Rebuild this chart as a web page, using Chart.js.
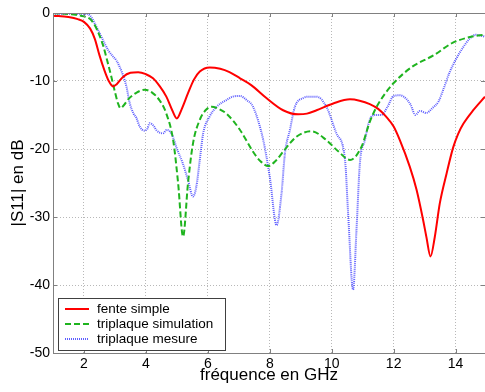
<!DOCTYPE html>
<html>
<head>
<meta charset="utf-8">
<script src="https://cdn.jsdelivr.net/npm/chart.js@4.4.1/dist/chart.umd.min.js"></script>
<style>
  html, body { margin: 0; padding: 0; background: #fff; }
  #wrap { width: 485px; height: 392px; }
</style>
</head>
<body>
<div id="wrap"><canvas id="s11Chart" width="485" height="392"></canvas></div>
<script>
// |S11| (dB) vs frequency (GHz)
const xTicks = [2, 4, 6, 8, 10, 12, 14];
const yTicks = [0, -10, -20, -30, -40, -50];

const fenteFreq = [1.0, 1.5, 1.8, 2.0, 2.2, 2.35, 2.5, 2.65, 2.8, 2.94, 3.05, 3.26, 3.5, 3.75, 4.0, 4.23, 4.45, 4.66, 4.85, 5.0, 5.15, 5.36, 5.55, 5.74, 6.06, 6.4, 6.7, 7.04, 7.4, 7.89, 8.43, 8.92, 9.2, 9.51, 10.05, 10.59, 10.9, 11.23, 11.5, 11.75, 12.0, 12.2, 12.52, 12.74, 12.95, 13.06, 13.19, 13.33, 13.49, 13.71, 13.92, 14.08, 14.25, 14.57, 14.95];
const fenteS11 = [-0.4, -0.6, -0.9, -1.3, -2.3, -3.8, -6.2, -8.3, -10.0, -10.8, -10.5, -9.4, -8.8, -8.7, -9.0, -9.6, -10.8, -12.3, -14.3, -15.5, -14.2, -11.8, -9.8, -8.6, -8.0, -8.2, -8.7, -9.6, -10.6, -12.5, -14.3, -14.9, -14.8, -14.3, -13.3, -12.7, -12.9, -13.4, -14.1, -15.2, -16.7, -18.7, -22.6, -26.0, -30.4, -33.0, -35.8, -32.9, -28.0, -23.6, -19.8, -17.8, -16.3, -14.3, -12.3];

const simFreq = [1.0, 1.6, 2.0, 2.2, 2.35, 2.5, 2.62, 2.75, 2.88, 3.0, 3.1, 3.18, 3.28, 3.45, 3.7, 3.96, 4.2, 4.45, 4.66, 4.88, 5.04, 5.2, 5.36, 5.52, 5.74, 5.95, 6.12, 6.35, 6.6, 7.04, 7.46, 7.7, 7.95, 8.2, 8.43, 8.86, 9.35, 9.83, 10.2, 10.59, 10.96, 11.23, 11.45, 11.7, 12.0, 12.6, 13.3, 13.9, 14.5, 14.95];
const simS11 = [0.0, -0.2, -0.5, -0.9, -1.8, -3.3, -4.8, -7.0, -9.3, -11.6, -13.3, -14.0, -13.6, -12.6, -11.7, -11.3, -11.7, -12.9, -14.8, -18.7, -25.0, -32.9, -25.0, -19.2, -15.7, -14.2, -13.8, -14.1, -14.8, -17.2, -20.4, -21.8, -22.5, -21.7, -20.4, -18.2, -17.4, -18.7, -20.3, -21.6, -19.7, -16.0, -13.8, -12.0, -10.3, -7.9, -6.2, -4.4, -3.5, -3.2];

const mesFreq = [1.0, 1.5, 2.0, 2.2, 2.4, 2.67, 2.8, 2.94, 3.05, 3.15, 3.25, 3.37, 3.48, 3.6, 3.69, 3.8, 3.95, 4.05, 4.12, 4.25, 4.35, 4.55, 4.67, 4.77, 4.88, 4.98, 5.19, 5.36, 5.52, 5.63, 5.74, 5.85, 6.06, 6.28, 6.6, 6.8, 7.04, 7.25, 7.46, 7.79, 8.0, 8.22, 8.38, 8.49, 8.65, 8.81, 9.08, 9.3, 9.51, 9.83, 10.15, 10.43, 10.53, 10.69, 10.8, 10.91, 11.07, 11.23, 11.4, 11.6, 11.8, 12.0, 12.2, 12.4, 12.55, 12.7, 12.85, 13.05, 13.25, 13.45, 13.6, 13.8, 14.0, 14.25, 14.45, 14.65, 14.8, 14.95];
const mesS11 = [-0.1, -0.1, -0.1, -0.4, -2.0, -4.5, -5.6, -6.4, -7.0, -7.9, -9.0, -10.8, -13.3, -14.8, -15.4, -16.7, -17.3, -17.0, -16.2, -16.6, -17.3, -17.7, -17.2, -17.4, -18.3, -19.7, -22.1, -24.6, -27.0, -25.5, -21.6, -17.7, -15.2, -13.8, -12.8, -12.3, -12.2, -12.8, -13.8, -18.7, -24.1, -31.2, -26.5, -20.6, -17.2, -13.8, -12.5, -12.3, -12.3, -13.8, -17.7, -21.6, -29.5, -40.7, -31.9, -22.1, -18.7, -15.7, -15.0, -15.0, -13.8, -12.2, -12.1, -12.6, -13.5, -15.0, -14.4, -14.7, -14.0, -13.0, -11.3, -8.8, -6.9, -5.0, -3.8, -3.2, -3.3, -3.5];

const FONT = '"Liberation Sans", Arial, sans-serif';

function toPoints(xs, ys) {
  return xs.map((x, i) => ({ x: x, y: ys[i] }));
}

// box, inward ticks and the legend placed inside the axes, matlab style
const matlabFrame = {
  id: "matlabFrame",
  afterDraw(chart) {
    const { ctx, chartArea: a, scales } = chart;
    ctx.save();
    ctx.strokeStyle = "#808080";
    ctx.lineWidth = 1;
    ctx.strokeRect(a.left + 0.5, a.top + 0.5, a.right - a.left, a.bottom - a.top);

    ctx.beginPath();
    xTicks.forEach(v => {
      const px = Math.round(scales.x.getPixelForValue(v)) + 0.5;
      ctx.moveTo(px, a.bottom); ctx.lineTo(px, a.bottom - 4);
      ctx.moveTo(px, a.top); ctx.lineTo(px, a.top + 4);
    });
    yTicks.forEach(v => {
      const py = Math.round(scales.y.getPixelForValue(v)) + 0.5;
      ctx.moveTo(a.left, py); ctx.lineTo(a.left + 4, py);
      ctx.moveTo(a.right, py); ctx.lineTo(a.right - 4, py);
    });
    ctx.stroke();

    // legend
    const lx = 58, ly = 298, lw = 167, lh = 52;
    ctx.fillStyle = "#fff";
    ctx.fillRect(lx, ly, lw, lh);
    ctx.strokeStyle = "#404040";
    ctx.strokeRect(lx + 0.5, ly + 0.5, lw, lh);
    ctx.font = "13.5px " + FONT;
    ctx.textBaseline = "middle";
    const rows = [309, 324, 339];
    chart.data.datasets.forEach((ds, i) => {
      const y = rows[i];
      ctx.strokeStyle = ds.borderColor;
      ctx.lineWidth = ds.borderWidth;
      ctx.setLineDash(ds.borderDash || []);
      ctx.beginPath();
      ctx.moveTo(65, y); ctx.lineTo(89, y);
      ctx.stroke();
      ctx.setLineDash([]);
      ctx.fillStyle = "#000";
      ctx.fillText(ds.label, 97, y);
    });
    ctx.restore();
  }
};

new Chart(document.getElementById("s11Chart"), {
  type: "line",
  data: {
    datasets: [
      {
        label: "fente simple",
        data: toPoints(fenteFreq, fenteS11),
        borderColor: "#ff0000",
        borderWidth: 2,
        cubicInterpolationMode: "monotone",
        pointRadius: 0
      },
      {
        label: "triplaque simulation",
        data: toPoints(simFreq, simS11),
        borderColor: "#1fb41f",
        borderWidth: 2,
        borderDash: [6, 3],
        cubicInterpolationMode: "monotone",
        pointRadius: 0
      },
      {
        label: "triplaque mesure",
        data: toPoints(mesFreq, mesS11),
        borderColor: "rgba(40,40,255,0.75)",
        borderWidth: 2,
        borderDash: [1, 1],
        cubicInterpolationMode: "monotone",
        pointRadius: 0
      }
    ]
  },
  options: {
    responsive: false,
    animation: false,
    devicePixelRatio: 1,
    layout: { padding: { top: 13, right: 0, left: 0, bottom: 0 } },
    plugins: {
      legend: { display: false },
      tooltip: { enabled: false }
    },
    scales: {
      x: {
        type: "linear",
        min: 1,
        max: 14.95,
        afterFit: s => { s.height = 39; },
        afterBuildTicks: s => { s.ticks = xTicks.map(v => ({ value: v })); },
        grid: { color: "#b8b8b8", drawTicks: false },
        border: { color: "#808080", dash: [1, 2] },
        ticks: { color: "#000", padding: 3, maxRotation: 0, font: { family: FONT, size: 14 } },
        title: {
          display: true,
          text: "fréquence en GHz",
          color: "#000",
          font: { family: FONT, size: 17 },
          padding: { top: 0, bottom: 6 }
        }
      },
      y: {
        min: -50,
        max: 0,
        afterFit: s => { s.width = 53; },
        afterBuildTicks: s => { s.ticks = yTicks.map(v => ({ value: v })); },
        grid: { color: "#b8b8b8", drawTicks: false },
        border: { color: "#808080", dash: [1, 2] },
        ticks: { color: "#000", padding: 3, font: { family: FONT, size: 14 } },
        title: {
          display: true,
          text: "|S11| en dB",
          color: "#000",
          font: { family: FONT, size: 17 },
          padding: { top: 8, bottom: 0 }
        }
      }
    }
  },
  plugins: [matlabFrame]
});
</script>
</body>
</html>
